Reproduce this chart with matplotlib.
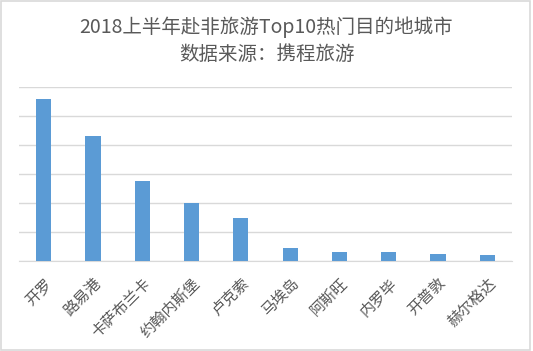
import matplotlib.pyplot as plt
from matplotlib.patches import Rectangle

plt.rcParams['font.family'] = ['Noto Sans CJK SC', 'DejaVu Sans']

# 城市与热度（按图估读，相对值）
cities = ["开罗", "路易港", "卡萨布兰卡", "约翰内斯堡", "卢克索",
          "马埃岛", "阿斯旺", "内罗毕", "开普敦", "赫尔格达"]
values = [5.61, 4.31, 2.78, 2.02, 1.48, 0.44, 0.30, 0.30, 0.24, 0.21]
title1 = "2018上半年赴非旅游Top10热门目的地城市"
title2 = "数据来源：携程旅游"

fig = plt.figure(figsize=(5.33, 3.51), dpi=100)
ax = fig.add_axes([19/533, 1 - 261/351, 493/533, (261 - 87.3)/351])

x = range(len(cities))
ax.bar(x, values, width=0.31, color='#5b9bd5', zorder=3)
ax.set_xlim(-0.5, len(cities) - 0.5)
ax.set_ylim(0, 6)
ax.set_yticks(range(0, 7))
ax.set_yticklabels([])
ax.tick_params(axis='y', length=0)
ax.tick_params(axis='x', length=0, pad=10)
ax.grid(axis='y', color='#d9d9d9', linewidth=1, zorder=0)
for s in ['top', 'right', 'left']:
    ax.spines[s].set_visible(False)
ax.spines['bottom'].set_color('#d9d9d9')
ax.set_xticks(list(x))
ax.set_xticklabels(cities, rotation=45, ha='right', rotation_mode='anchor',
                   fontsize=11, color='#595959')

fig.text(0.5, 1 - 27/351, title1, ha='center', va='center', fontsize=14,
         color='#595959')
fig.text(0.5, 1 - 54/351, title2, ha='center', va='center', fontsize=14,
         color='#595959')

fig.patches.append(Rectangle((0.002, 0.003), 0.993, 0.994, transform=fig.transFigure,
                             fill=False, edgecolor='#d9d9d9', linewidth=1.2))

fig.savefig('out.png', dpi=100)
